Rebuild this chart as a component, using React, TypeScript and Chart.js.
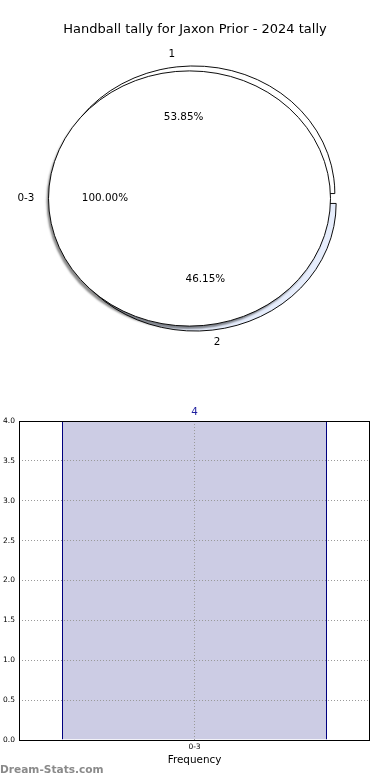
import React, { useEffect, useRef } from 'react';
import { Chart, registerables } from 'chart.js';

Chart.register(...registerables);

// ---------- data ----------
const TITLE = 'Handball tally for Jaxon Prior - 2024 tally';
const PIE_OUTER_LABELS = ['1', '2'];
const PIE_OUTER_VALUES = [7, 6];
const PIE_INNER_LABELS = ['0-3'];
const PIE_INNER_VALUES = [4];
const BAR_CATEGORIES = ['0-3'];
const BAR_VALUES = [4];
const Y_TICKS = [0, 0.5, 1, 1.5, 2, 2.5, 3, 3.5, 4];
const X_TITLE = 'Frequency';
const WATERMARK = 'Dream-Stats.com';

// ---------- pie geometry / style ----------
const FONT = "'DejaVu Sans', sans-serif";
const R = 141;
const SY = 0.905;
const SHIFT_X = [2.5, -2.5];
const EXPLODE = [5.5, 0];
const LABEL_DIST = 1.1;
const PCT_DIST = 0.6;
const LABEL_SETS = [PIE_OUTER_LABELS, PIE_INNER_LABELS];

function centerOf(chart: any) {
  const { left, right, top, bottom } = chart.chartArea;
  return { cx: (left + right) / 2, cy: (top + bottom) / 2 };
}

const pieGeometry = {
  id: 'pieGeometry',
  afterDatasetsUpdate(chart: any) {
    const { cx, cy } = centerOf(chart);
    chart.data.datasets.forEach((_ds: any, di: number) => {
      const meta = chart.getDatasetMeta(di);
      meta.data.forEach((arc: any) => {
        const mid = (arc.startAngle + arc.endAngle) / 2;
        arc.x = cx + SHIFT_X[di] + Math.cos(mid) * EXPLODE[di];
        arc.y = cy + Math.sin(mid) * EXPLODE[di];
        arc.innerRadius = 0;
        arc.outerRadius = R;
      });
    });
  },
  beforeDatasetDraw(chart: any, args: any) {
    const ctx = chart.ctx;
    const { cy } = centerOf(chart);
    ctx.save();
    ctx.translate(0, cy);
    ctx.scale(1, SY);
    ctx.translate(0, -cy);
    if (args.index === 1) {
      ctx.shadowColor = 'rgba(0,0,0,0.45)';
      ctx.shadowOffsetX = -2;
      ctx.shadowOffsetY = 3;
      ctx.shadowBlur = 2;
    }
  },
  afterDatasetDraw(chart: any, args: any) {
    const ctx = chart.ctx;
    if (args.index === 1) {
      ctx.shadowColor = 'rgba(0,0,0,0)';
      ctx.shadowBlur = 0;
      ctx.shadowOffsetX = 0;
      ctx.shadowOffsetY = 0;
      ctx.lineWidth = 1;
      ctx.strokeStyle = '#000';
      args.meta.data.forEach((arc: any) => {
        ctx.beginPath();
        ctx.arc(arc.x, arc.y, arc.outerRadius, 0, Math.PI * 2);
        ctx.stroke();
      });
    }
    ctx.restore();
  },
  afterDraw(chart: any) {
    const ctx = chart.ctx;
    const { cy } = centerOf(chart);
    ctx.save();
    ctx.fillStyle = '#000';
    ctx.font = `13px ${FONT}`;
    ctx.textAlign = 'center';
    ctx.textBaseline = 'middle';
    ctx.fillText(TITLE, 195, 30);
    ctx.font = `10.4px ${FONT}`;
    chart.data.datasets.forEach((ds: any, di: number) => {
      const meta = chart.getDatasetMeta(di);
      const total = ds.data.reduce((a: number, b: number) => a + b, 0);
      meta.data.forEach((arc: any, i: number) => {
        const mid = (arc.startAngle + arc.endAngle) / 2;
        const c = Math.cos(mid), s = Math.sin(mid);
        const lr = LABEL_DIST * arc.outerRadius;
        const pr = PCT_DIST * arc.outerRadius;
        const lx = arc.x + c * lr;
        const ly = cy + (arc.y - cy + s * lr) * SY;
        ctx.textAlign = c > 0 ? 'left' : 'right';
        ctx.fillText(LABEL_SETS[di][i], lx, ly);
        const px = arc.x + c * pr;
        const py = cy + (arc.y - cy + s * pr) * SY;
        ctx.textAlign = 'center';
        ctx.fillText(((ds.data[i] / total) * 100).toFixed(2) + '%', px, py);
      });
    });
    ctx.restore();
  },
};

const barExtras = {
  id: 'barExtras',
  afterDatasetsDraw(chart: any) {
    const ctx = chart.ctx;
    const meta = chart.getDatasetMeta(0);
    ctx.save();
    ctx.fillStyle = '#1f1f9f';
    ctx.font = `10.4px ${FONT}`;
    ctx.textAlign = 'center';
    ctx.textBaseline = 'middle';
    meta.data.forEach((bar: any, i: number) => {
      ctx.fillText(String(chart.data.datasets[0].data[i]), bar.x, bar.y - 8.5);
    });
    ctx.restore();
  },
  afterDraw(chart: any) {
    const ctx = chart.ctx;
    const { left, right, top, bottom } = chart.chartArea;
    ctx.save();
    ctx.strokeStyle = '#000';
    ctx.lineWidth = 1;
    ctx.strokeRect(left + 0.5, top + 0.5, right - left - 1, bottom - top);
    ctx.fillStyle = '#8a8a8a';
    ctx.font = `bold 10.6px ${FONT}`;
    ctx.textAlign = 'left';
    ctx.textBaseline = 'middle';
    ctx.fillText(WATERMARK, 0, 375);
    ctx.restore();
  },
};

export default function App() {
  const pieRef = useRef<HTMLCanvasElement>(null);
  const barRef = useRef<HTMLCanvasElement>(null);

  useEffect(() => {
    Chart.defaults.font.family = FONT;
    const outerTotal = PIE_OUTER_VALUES.reduce((a, b) => a + b, 0);
    const pie = new Chart(pieRef.current as HTMLCanvasElement, {
      type: 'pie',
      data: {
        labels: PIE_OUTER_LABELS,
        datasets: [
          {
            data: PIE_OUTER_VALUES,
            backgroundColor: ['#ffffff', '#e6edfc'],
            borderColor: '#000000',
            borderWidth: 1,
            rotation: 90 - (360 * PIE_OUTER_VALUES[0]) / outerTotal,
            order: 1,
            clip: false,
          } as any,
          {
            data: PIE_INNER_VALUES,
            backgroundColor: ['#ffffff'],
            borderWidth: 0,
            rotation: 90,
            order: 0,
            clip: false,
          } as any,
        ],
      },
      options: {
        responsive: false,
        animation: false,
        devicePixelRatio: 1,
        layout: { padding: { left: 0, right: 6, top: 2, bottom: 0 } },
        events: [],
        plugins: {
          legend: { display: false },
          tooltip: { enabled: false },
          title: { display: false },
        },
      } as any,
      plugins: [pieGeometry],
    });

    const bar = new Chart(barRef.current as HTMLCanvasElement, {
      type: 'bar',
      data: {
        labels: BAR_CATEGORIES,
        datasets: [
          {
            data: BAR_VALUES,
            backgroundColor: '#ccccE4',
            borderColor: '#00007f',
            borderWidth: 1,
            borderSkipped: 'start',
            inflateAmount: 0,
            barPercentage: 265 / 351,
            categoryPercentage: 1,
          } as any,
        ],
      },
      options: {
        responsive: false,
        animation: false,
        devicePixelRatio: 1,
        events: [],
        layout: { padding: { left: 0, right: 20, top: 26, bottom: 0 } },
        plugins: {
          legend: { display: false },
          tooltip: { enabled: false },
          title: { display: false },
        },
        scales: {
          x: {
            grid: { display: true, offset: false, drawTicks: false, color: '#9a9a9a', lineWidth: 1, z: 1 },
            border: { display: false, dash: [1, 2] },
            ticks: { font: { size: 7.5, family: FONT }, color: '#000', padding: 3 },
            title: {
              display: true,
              text: X_TITLE,
              font: { size: 10.4, family: FONT },
              color: '#000',
              padding: { top: 0, bottom: 13 },
            },
            afterFit: (s: any) => {
              s.height = 40;
            },
          },
          y: {
            min: 0,
            max: 4,
            afterBuildTicks: (s: any) => {
              s.ticks = Y_TICKS.map((v) => ({ value: v }));
            },
            ticks: {
              autoSkip: false,
              font: { size: 7.5, family: FONT },
              color: '#000',
              padding: 4,
              callback: (v: any) => Number(v).toFixed(1),
            },
            grid: { display: true, drawTicks: false, color: '#9a9a9a', lineWidth: 1, z: 1 },
            border: { display: false, dash: [1, 2] },
            afterFit: (s: any) => {
              s.width = 19;
            },
          },
        },
      } as any,
      plugins: [barExtras],
    });

    return () => {
      pie.destroy();
      bar.destroy();
    };
  }, []);

  return (
    <div style={{ position: 'absolute', left: 0, top: 0, width: 390, height: 780, background: '#fff' }}>
      <canvas
        ref={pieRef}
        width={390}
        height={395}
        style={{ position: 'absolute', left: 0, top: 0, width: 390, height: 395 }}
      />
      <canvas
        ref={barRef}
        width={390}
        height={385}
        style={{ position: 'absolute', left: 0, top: 395, width: 390, height: 385 }}
      />
    </div>
  );
}
